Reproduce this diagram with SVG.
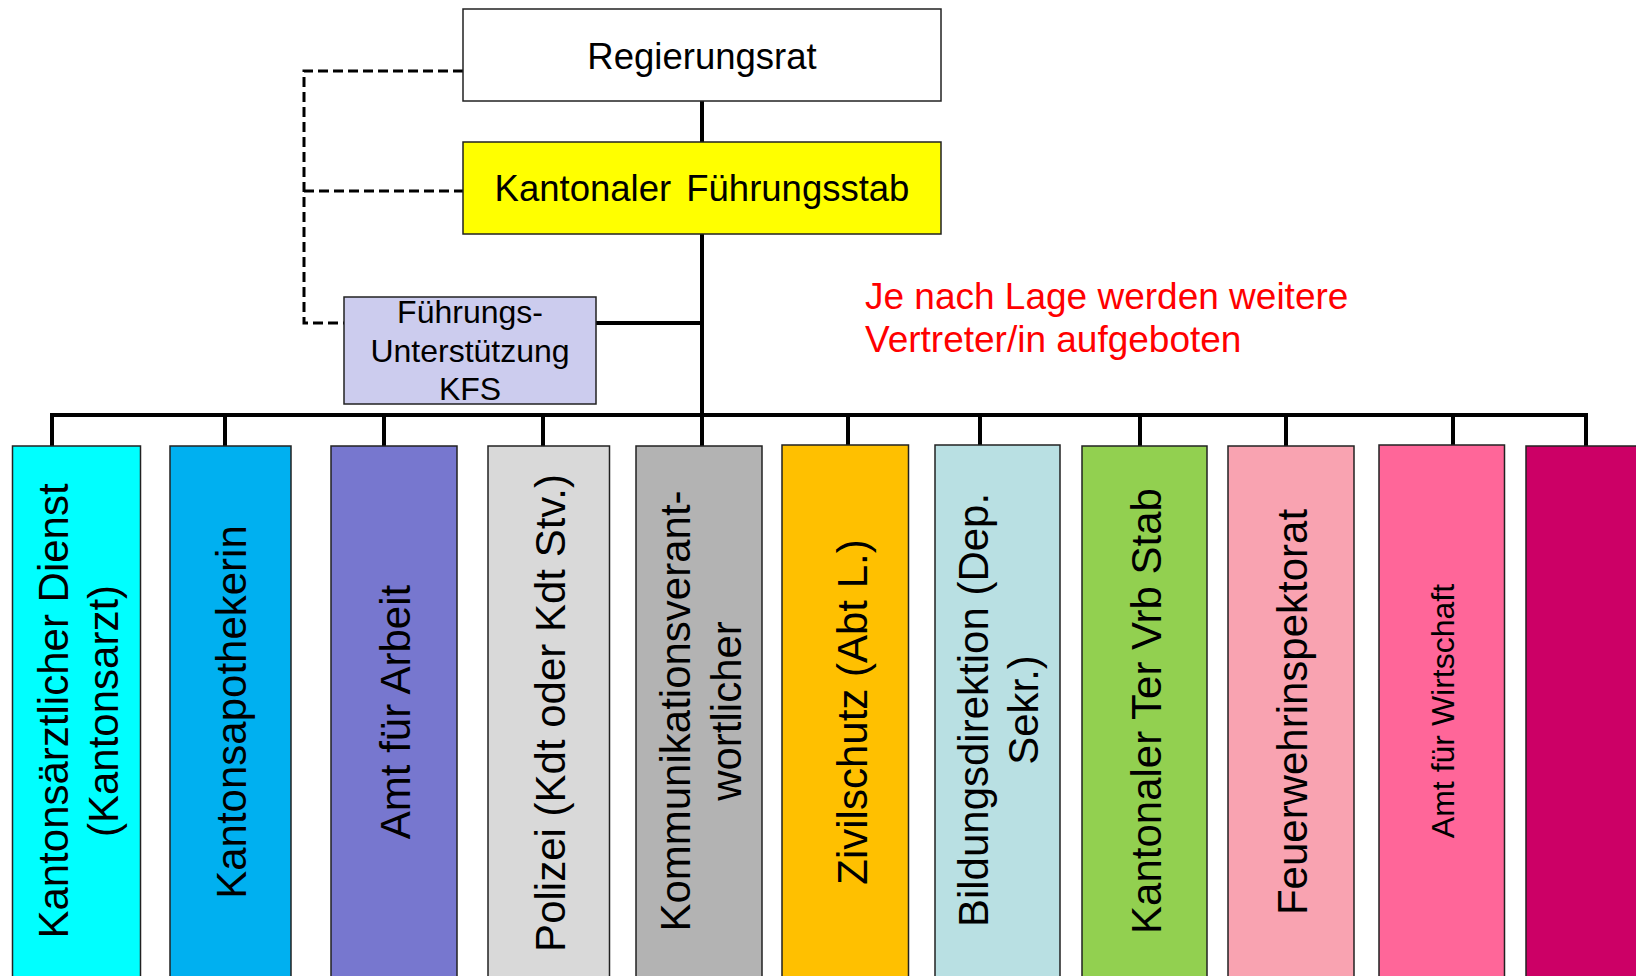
<svg xmlns="http://www.w3.org/2000/svg" width="1636" height="976" viewBox="0 0 1636 976">
<style>
text{font-family:"Liberation Sans",Arial,sans-serif;fill:#000}
.box{stroke:#222;stroke-width:1.5}
.col{font-size:42px;text-anchor:middle}
.top{font-size:36.5px;text-anchor:middle}
.conn{stroke:#000;stroke-width:4;fill:none}
.dash{stroke:#000;stroke-width:3;fill:none;stroke-dasharray:10 5}
.note{font-size:37px;fill:#ff0000}
</style>
<rect width="1636" height="976" fill="#fff"/>
<g id="connectors">
<path class="conn" d="M702 101V142M702 234V415M596 323H702M52 415H1586"/>
<path class="conn" d="M52 413V446M225 413V446M384 413V446M543 413V446M702 413V446M848 413V446M980 413V446M1140 413V446M1286 413V446M1453 413V446M1586 413V446"/>
<path class="dash" d="M463 71H304V323H344M304 191H463"/>
</g>
<g id="regierungsrat">
<rect class="box" x="463" y="9" width="478" height="92" fill="#fff"/>
<text class="top" x="702" y="69">Regierungsrat</text>
</g>
<g id="kfs">
<rect class="box" x="463" y="142" width="478" height="92" fill="#ffff00"/>
<text class="top" x="702" y="201" word-spacing="5">Kantonaler Führungsstab</text>
</g>
<g id="fu-kfs">
<rect class="box" x="344" y="297" width="252" height="107" fill="#ccccee"/>
<text x="470" y="323" font-size="32" text-anchor="middle">Führungs-</text>
<text x="470" y="362" font-size="32" text-anchor="middle">Unterstützung</text>
<text x="470" y="400" font-size="32" text-anchor="middle">KFS</text>
</g>
<g id="note">
<text class="note" x="865" y="309">Je nach Lage werden weitere</text>
<text class="note" x="865" y="352">Vertreter/in aufgeboten</text>
</g>
<g id="c1">
<rect class="box" x="12.5" y="446" width="128" height="540" fill="#00ffff"/>
<text class="col" transform="translate(68,711) rotate(-90)"><tspan x="0" y="0">Kantonsärztlicher Dienst</tspan><tspan x="0" y="50">(Kantonsarzt)</tspan></text>
</g>
<g id="c2">
<rect class="box" x="170" y="446" width="121" height="540" fill="#00b0f0"/>
<text class="col" transform="translate(246,712) rotate(-90)">Kantonsapothekerin</text>
</g>
<g id="c3">
<rect class="box" x="331" y="446" width="126" height="540" fill="#7777cf"/>
<text class="col" transform="translate(410,712) rotate(-90)">Amt für Arbeit</text>
</g>
<g id="c4">
<rect class="box" x="488" y="446" width="121.5" height="540" fill="#d9d9d9"/>
<text class="col" transform="translate(565,713) rotate(-90)">Polizei (Kdt oder Kdt Stv.)</text>
</g>
<g id="c5">
<rect class="box" x="636" y="446" width="126" height="540" fill="#b3b3b3"/>
<text class="col" transform="translate(690,711) rotate(-90)"><tspan x="0" y="0">Kommunikationsverant-</tspan><tspan x="0" y="51">wortlicher</tspan></text>
</g>
<g id="c6">
<rect class="box" x="782" y="445" width="126.5" height="540" fill="#ffc000"/>
<text class="col" transform="translate(867,712) rotate(-90)">Zivilschutz (Abt L.)</text>
</g>
<g id="c7">
<rect class="box" x="935" y="445" width="125" height="540" fill="#b9e0e3"/>
<text class="col" transform="translate(988,710) rotate(-90)"><tspan x="0" y="0">Bildungsdirektion (Dep.</tspan><tspan x="0" y="50">Sekr.)</tspan></text>
</g>
<g id="c8">
<rect class="box" x="1082" y="446" width="125" height="540" fill="#92d050"/>
<text class="col" transform="translate(1161,711) rotate(-90)">Kantonaler Ter Vrb Stab</text>
</g>
<g id="c9">
<rect class="box" x="1228" y="446" width="126" height="540" fill="#f9a3b1"/>
<text class="col" transform="translate(1307,712) rotate(-90)">Feuerwehrinspektorat</text>
</g>
<g id="c10">
<rect class="box" x="1379" y="445" width="125.5" height="540" fill="#ff6699"/>
<text transform="translate(1454,711) rotate(-90)" font-size="32" text-anchor="middle">Amt für Wirtschaft</text>
</g>
<g id="c11">
<rect class="box" x="1526" y="446" width="130" height="540" fill="#cc0066"/>
</g>
</svg>
